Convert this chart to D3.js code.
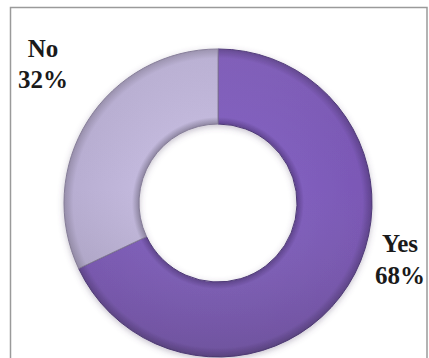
<!DOCTYPE html>
<html>
<head>
<meta charset="utf-8">
<script src="https://cdn.jsdelivr.net/npm/d3@7"></script>
<style>
  html, body { margin: 0; padding: 0; background: #ffffff; }
  svg { display: block; }
</style>
</head>
<body>
<svg id="chart" width="429" height="358"></svg>
<script>
// Survey answers and their shares (percent)
const categories = ["Yes", "No"];
const values = [68, 32];
const labelText = ["68%", "32%"];

const width = 429, height = 358;
const svg = d3.select("#chart");
const defs = svg.append("defs");

// Frame around the chart area
svg.append("rect")
  .attr("x", 10.5).attr("y", 7.5)
  .attr("width", 416.5).attr("height", 360)
  .attr("fill", "#ffffff")
  .attr("stroke", "#9a9a9a")
  .attr("stroke-width", 1.5);

const cx = 218, cy = 203;
const outerR = 154, innerR = 79;

// Soft shadow under the ring
const shadow = defs.append("filter").attr("id", "ringShadow")
  .attr("x", "-20%").attr("y", "-20%").attr("width", "140%").attr("height", "140%");
shadow.append("feDropShadow")
  .attr("dx", 0).attr("dy", 2).attr("stdDeviation", 3)
  .attr("flood-color", "#5a4a70").attr("flood-opacity", 0.35);

// Bevel-like radial shading for each slice (centred on the ring's own origin)
const palettes = {
  Yes: ["#5f4390", "#805ebd", "#7b58b6", "#5e428c"],
  No:  ["#8f87a3", "#c2b8dc", "#b8aed2", "#978eab"]
};
categories.forEach(c => {
  const g = defs.append("radialGradient")
    .attr("id", "grad" + c)
    .attr("gradientUnits", "userSpaceOnUse")
    .attr("cx", 0).attr("cy", 0).attr("r", outerR);
  const p = palettes[c];
  g.append("stop").attr("offset", innerR / outerR).attr("stop-color", p[0]);
  g.append("stop").attr("offset", (innerR + 7) / outerR).attr("stop-color", p[1]);
  g.append("stop").attr("offset", 0.94).attr("stop-color", p[2]);
  g.append("stop").attr("offset", 1).attr("stop-color", p[3]);
});

// Top-to-bottom light falloff laid over the slices
const shade = defs.append("linearGradient")
  .attr("id", "shade")
  .attr("gradientUnits", "userSpaceOnUse")
  .attr("x1", 0).attr("y1", -outerR).attr("x2", 0).attr("y2", outerR);
shade.append("stop").attr("offset", 0).attr("stop-color", "#ffffff").attr("stop-opacity", 0.05);
shade.append("stop").attr("offset", 0.45).attr("stop-color", "#808080").attr("stop-opacity", 0);
shade.append("stop").attr("offset", 1).attr("stop-color", "#404040").attr("stop-opacity", 0.2);

const pie = d3.pie().sort(null).value(d => d.value).startAngle(0).endAngle(2 * Math.PI);
const arcs = pie(categories.map((c, i) => ({ name: c, value: values[i], label: labelText[i] })));
const arc = d3.arc().innerRadius(innerR).outerRadius(outerR);

const ring = svg.append("g")
  .attr("transform", `translate(${cx},${cy})`)
  .attr("filter", "url(#ringShadow)");

ring.selectAll("path.slice")
  .data(arcs)
  .join("path")
  .attr("class", "slice")
  .attr("d", arc)
  .attr("fill", d => `url(#grad${d.data.name})`)
  .attr("stroke", d => d.data.name === "Yes" ? "#4e3878" : "#857c98")
  .attr("stroke-width", 1);

ring.selectAll("path.shade")
  .data(arcs)
  .join("path")
  .attr("class", "shade")
  .attr("d", arc)
  .attr("fill", "url(#shade)")
  .attr("stroke", "none");

// Labels placed outside the ring
const labelPos = {
  Yes: { x: 400, y1: 252, y2: 284 },
  No:  { x: 43,  y1: 57,  y2: 88 }
};
const labels = svg.append("g")
  .attr("font-family", "'Liberation Serif', 'Times New Roman', serif")
  .attr("font-weight", "bold")
  .attr("font-size", 25)
  .attr("fill", "#1a1a1a")
  .attr("text-anchor", "middle");

arcs.forEach(d => {
  const p = labelPos[d.data.name];
  labels.append("text").attr("x", p.x).attr("y", p.y1).text(d.data.name);
  labels.append("text").attr("x", p.x).attr("y", p.y2).text(d.data.label);
});
</script>
</body>
</html>
